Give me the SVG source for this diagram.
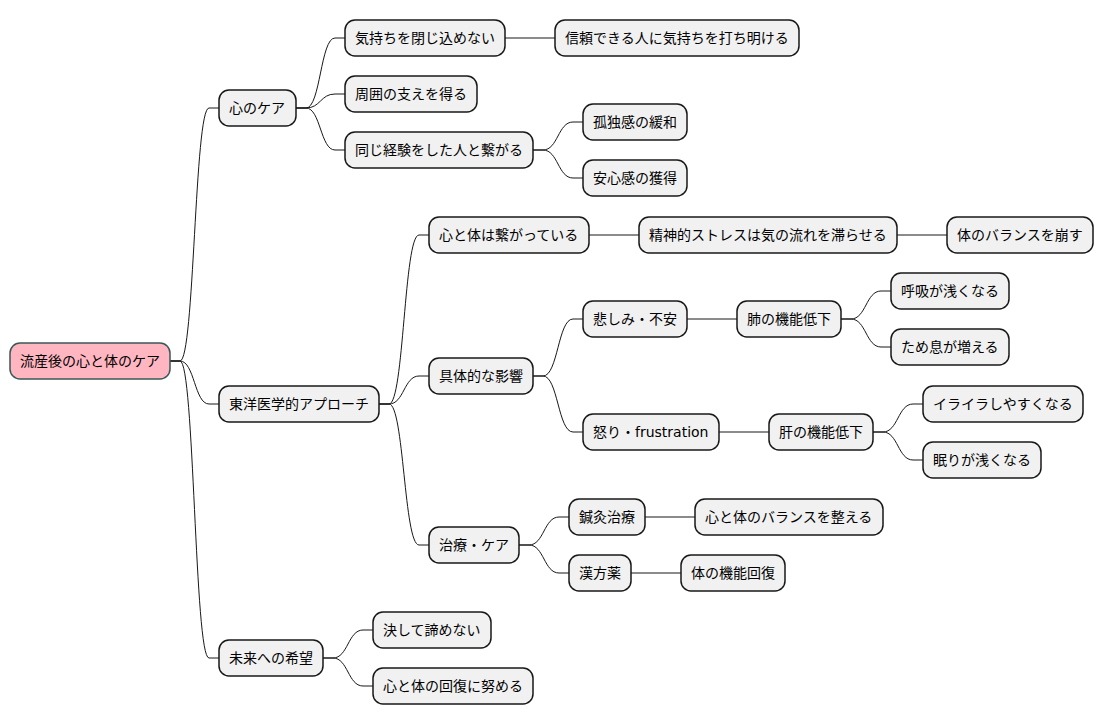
<svg xmlns="http://www.w3.org/2000/svg" width="1104" height="724" viewBox="0 0 1104 724">
<style>
.n rect{fill:#F1F1F1;stroke:#181818;stroke-width:1.5}
#root rect{fill:#FFB6C1;stroke:#3A5858}
.n text{font-family:"DejaVu Sans","Noto Sans CJK JP",sans-serif;font-size:14px;fill:#000}
#links path{fill:none;stroke:#181818;stroke-width:1}
</style>
<rect width="1104" height="724" fill="#FFFFFF"/>
<g id="links">
<path d="M170,361H180C194.5,361 194.5,108 209,108H219"/>
<path d="M170,361H180C194.5,361 194.5,404 209,404H219"/>
<path d="M170,361H180C194.5,361 194.5,658 209,658H219"/>
<path d="M296,108H306C320.5,108 320.5,38 335,38H345"/>
<path d="M296,108H306C320.5,108 320.5,94 335,94H345"/>
<path d="M296,108H306C320.5,108 320.5,150 335,150H345"/>
<path d="M505,38H555"/>
<path d="M533,150H543C558,150 558,122 573,122H583"/>
<path d="M533,150H543C558,150 558,178 573,178H583"/>
<path d="M379,404H389C404,404 404,235 419,235H429"/>
<path d="M379,404H389C404,404 404,376 419,376H429"/>
<path d="M379,404H389C404,404 404,545 419,545H429"/>
<path d="M589,235H639"/>
<path d="M897,235H947"/>
<path d="M533,376H543C558,376 558,319 573,319H583"/>
<path d="M533,376H543C558,376 558,432 573,432H583"/>
<path d="M687,319H737"/>
<path d="M841,319H851C866,319 866,291 881,291H891"/>
<path d="M841,319H851C866,319 866,347 881,347H891"/>
<path d="M719,432H769"/>
<path d="M873,432H883C898,432 898,404 913,404H923"/>
<path d="M873,432H883C898,432 898,460 913,460H923"/>
<path d="M519,545H529C544,545 544,517 559,517H569"/>
<path d="M519,545H529C544,545 544,573 559,573H569"/>
<path d="M645,517H695"/>
<path d="M631,573H681"/>
<path d="M323,658H333C348,658 348,630 363,630H373"/>
<path d="M323,658H333C348,658 348,686 363,686H373"/>
</g>
<g id="root" class="n"><rect x="10" y="343" width="160" height="36" rx="10"/><text x="20" y="366">流産後の心と体のケア</text></g>
<g id="n1" class="n"><rect x="219" y="90" width="77" height="36" rx="10"/><text x="229" y="113">心のケア</text></g>
<g id="n11" class="n"><rect x="345" y="20" width="160" height="36" rx="10"/><text x="355" y="43">気持ちを閉じ込めない</text></g>
<g id="n111" class="n"><rect x="555" y="20" width="244" height="36" rx="10"/><text x="565" y="43">信頼できる人に気持ちを打ち明ける</text></g>
<g id="n12" class="n"><rect x="345" y="76" width="132" height="36" rx="10"/><text x="355" y="99">周囲の支えを得る</text></g>
<g id="n13" class="n"><rect x="345" y="132" width="188" height="36" rx="10"/><text x="355" y="155">同じ経験をした人と繋がる</text></g>
<g id="n131" class="n"><rect x="583" y="104" width="104" height="36" rx="10"/><text x="593" y="127">孤独感の緩和</text></g>
<g id="n132" class="n"><rect x="583" y="160" width="104" height="36" rx="10"/><text x="593" y="183">安心感の獲得</text></g>
<g id="n2" class="n"><rect x="219" y="386" width="160" height="36" rx="10"/><text x="229" y="409">東洋医学的アプローチ</text></g>
<g id="n21" class="n"><rect x="429" y="217" width="160" height="36" rx="10"/><text x="439" y="240">心と体は繋がっている</text></g>
<g id="n211" class="n"><rect x="639" y="217" width="258" height="36" rx="10"/><text x="649" y="240">精神的ストレスは気の流れを滞らせる</text></g>
<g id="n2111" class="n"><rect x="947" y="217" width="146" height="36" rx="10"/><text x="957" y="240">体のバランスを崩す</text></g>
<g id="n22" class="n"><rect x="429" y="358" width="104" height="36" rx="10"/><text x="439" y="381">具体的な影響</text></g>
<g id="n221" class="n"><rect x="583" y="301" width="104" height="36" rx="10"/><text x="593" y="324">悲しみ・不安</text></g>
<g id="n2211" class="n"><rect x="737" y="301" width="104" height="36" rx="10"/><text x="747" y="324">肺の機能低下</text></g>
<g id="n22111" class="n"><rect x="891" y="273" width="118" height="36" rx="10"/><text x="901" y="296">呼吸が浅くなる</text></g>
<g id="n22112" class="n"><rect x="891" y="329" width="118" height="36" rx="10"/><text x="901" y="352">ため息が増える</text></g>
<g id="n222" class="n"><rect x="583" y="414" width="136" height="36" rx="10"/><text x="593" y="437">怒り・frustration</text></g>
<g id="n2221" class="n"><rect x="769" y="414" width="104" height="36" rx="10"/><text x="779" y="437">肝の機能低下</text></g>
<g id="n22211" class="n"><rect x="923" y="386" width="160" height="36" rx="10"/><text x="933" y="409">イライラしやすくなる</text></g>
<g id="n22212" class="n"><rect x="923" y="442" width="118" height="36" rx="10"/><text x="933" y="465">眠りが浅くなる</text></g>
<g id="n23" class="n"><rect x="429" y="527" width="90" height="36" rx="10"/><text x="439" y="550">治療・ケア</text></g>
<g id="n231" class="n"><rect x="569" y="499" width="76" height="36" rx="10"/><text x="579" y="522">鍼灸治療</text></g>
<g id="n2311" class="n"><rect x="695" y="499" width="188" height="36" rx="10"/><text x="705" y="522">心と体のバランスを整える</text></g>
<g id="n232" class="n"><rect x="569" y="555" width="62" height="36" rx="10"/><text x="579" y="578">漢方薬</text></g>
<g id="n2321" class="n"><rect x="681" y="555" width="104" height="36" rx="10"/><text x="691" y="578">体の機能回復</text></g>
<g id="n3" class="n"><rect x="219" y="640" width="104" height="36" rx="10"/><text x="229" y="663">未来への希望</text></g>
<g id="n31" class="n"><rect x="373" y="612" width="118" height="36" rx="10"/><text x="383" y="635">決して諦めない</text></g>
<g id="n32" class="n"><rect x="373" y="668" width="160" height="36" rx="10"/><text x="383" y="691">心と体の回復に努める</text></g>
</svg>
